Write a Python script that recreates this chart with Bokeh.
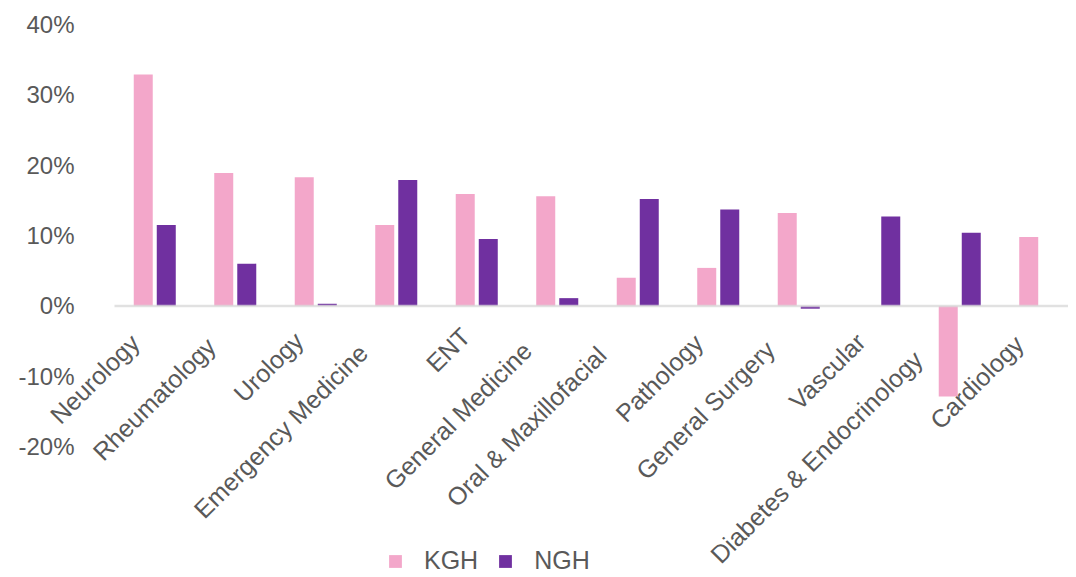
import math
from bokeh.plotting import figure
from bokeh.models import (ColumnDataSource, Range1d, FixedTicker, LabelSet,
                          Legend, LegendItem, CustomJSTickFormatter)
from bokeh.transform import dodge
from bokeh.core.properties import value
from bokeh.embed import file_html
from bokeh.resources import INLINE

categories = ["Neurology", "Rheumatology", "Urology", "Emergency Medicine", "ENT",
              "General Medicine", "Oral & Maxillofacial", "Pathology",
              "General Surgery", "Vascular", "Diabetes & Endocrinology", "Cardiology"]
kgh = [32.9, 18.9, 18.3, 11.5, 15.9, 15.6, 4.0, 5.4, 13.2, float("nan"), -12.9, 9.8]
ngh = [11.5, 6.0, 0.3, 17.9, 9.5, 1.1, 15.2, 13.7, -0.4, 12.7, 10.4, float("nan")]
y_ticks = [-0.2, -0.1, 0.0, 0.1, 0.2, 0.3, 0.4]

FONT = "Liberation Sans"
TXT = "#595959"
PINK = "#F3A7CA"
PURPLE = "#7030A0"

# label placement (Excel-like: longer labels drift down-left a little)
lab_dx = [-(16.6 + 1.46 * len(c)) for c in categories]
lab_dy = [-(13 + 1.1 * len(c)) for c in categories]

src = ColumnDataSource(data=dict(
    x=list(range(len(categories))),
    cat=categories,
    kgh=[v / 100 for v in kgh],
    ngh=[v / 100 for v in ngh],
    zero=[0.0] * len(categories),
    dx=lab_dx,
    dy=lab_dy,
))

p = figure(width=1068, height=576, output_backend="svg", toolbar_location=None,
           x_range=Range1d(-1.556, 11.351), y_range=Range1d(-0.3848, 0.42),
           x_axis_type=None, min_border_left=29, min_border_right=0,
           min_border_top=10, min_border_bottom=0)
p.outline_line_color = None
p.background_fill_color = "white"
p.border_fill_color = "white"
p.grid.visible = False

yax = p.yaxis[0]
yax.ticker = FixedTicker(ticks=y_ticks)
yax.formatter = CustomJSTickFormatter(code="return Math.round(tick*100) + '%';")
yax.axis_line_color = None
yax.major_tick_line_color = None
yax.minor_tick_line_color = None
yax.major_tick_out = 0
yax.major_tick_in = 0
yax.major_label_standoff = -45
yax.major_label_text_font = FONT
yax.major_label_text_font_size = "24px"
yax.major_label_text_color = TXT

r1 = p.vbar(x=dodge("x", -0.143, range=p.x_range), top="kgh", bottom=0, width=0.236,
            source=src, fill_color=PINK, line_color=None)
r2 = p.vbar(x=dodge("x", 0.143, range=p.x_range), top="ngh", bottom=0, width=0.236,
            source=src, fill_color=PURPLE, line_color=None)

# zero line starting where the category area begins
p.segment(x0=[-0.5], y0=[0.0], x1=[11.351], y1=[0.0], line_color="#D9D9D9",
          line_width=2.5, line_alpha=0.8)

labels = LabelSet(x="x", y="zero", text="cat", source=src, angle=math.pi / 4,
                  x_offset="dx", y_offset="dy", text_align="right",
                  text_baseline="top", text_font=value(FONT),
                  text_font_size="25px", text_color=TXT)
p.add_layout(labels)

legend = Legend(items=[LegendItem(label="KGH", renderers=[r1]),
                       LegendItem(label="NGH", renderers=[r2])],
                orientation="horizontal", location=(358, 1))
legend.border_line_color = None
legend.background_fill_alpha = 0
legend.padding = 0
legend.margin = 0
legend.spacing = 19
legend.glyph_width = 16
legend.glyph_height = 16
legend.label_standoff = 21
legend.label_text_font = FONT
legend.label_text_font_size = "25px"
legend.label_text_color = TXT
p.add_layout(legend, "center")

open("out.html", "w").write(file_html(p, INLINE))
